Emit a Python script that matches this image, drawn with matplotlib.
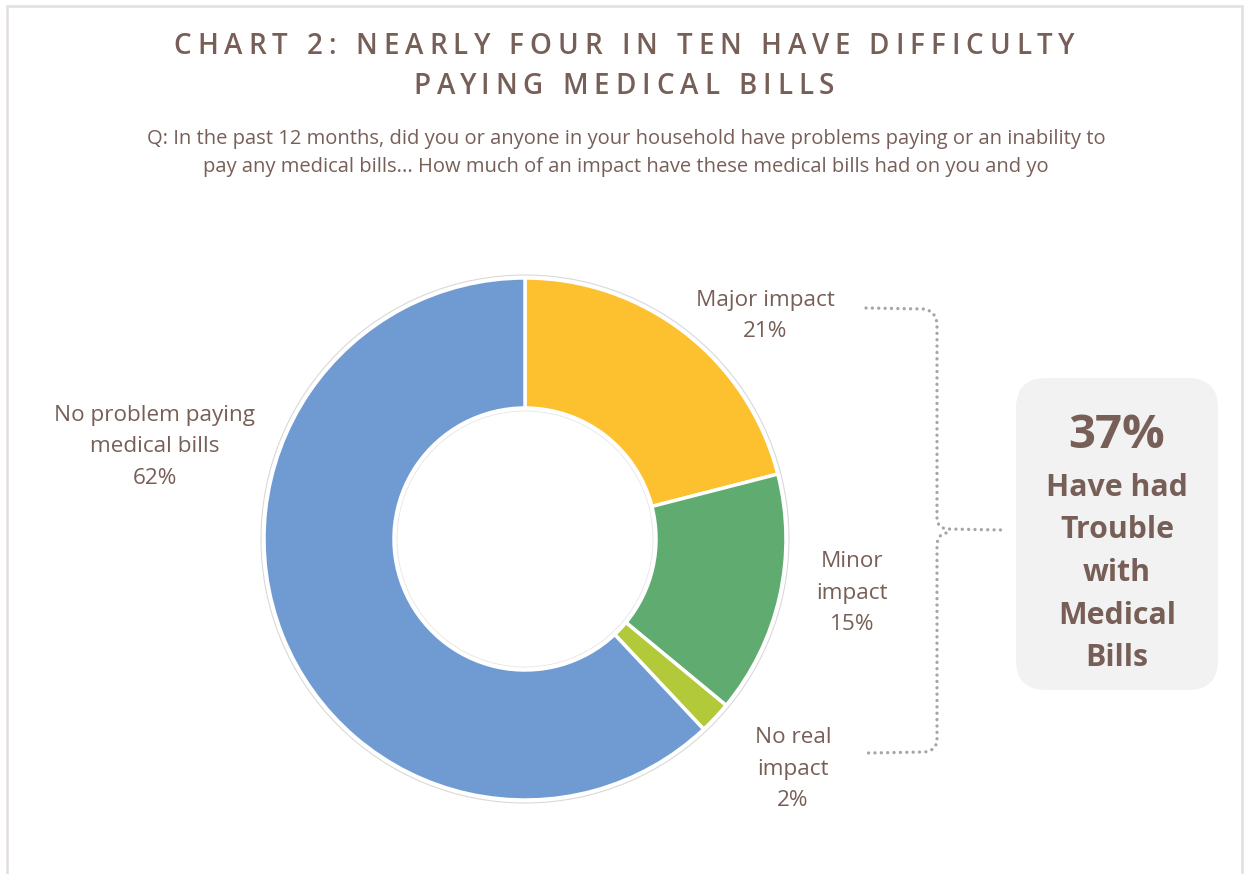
import matplotlib
matplotlib.use('Agg')
import matplotlib.pyplot as plt
from matplotlib.patches import FancyBboxPatch, Circle, PathPatch
from matplotlib.path import Path

W, H = 1244, 874

title_lines = ['CHART 2: NEARLY FOUR IN TEN HAVE DIFFICULTY', 'PAYING MEDICAL BILLS']
subtitle_lines = ['Q: In the past 12 months, did you or anyone in your household have problems paying or an inability to',
                  'pay any medical bills... How much of an impact have these medical bills had on you and yo']

categories = ['Major impact', 'Minor\nimpact', 'No real\nimpact', 'No problem paying\nmedical bills']
values = [21, 15, 2, 62]
colors = ['#FDC02F', '#60AC70', '#B2C93A', '#709BD2']

callout_pct = '37%'
callout_text = ['Have had', 'Trouble', 'with', 'Medical', 'Bills']

TEXT = '#775F58'
FONT = 'Open Sans'


def py(y):
    # screen-style y (top down) to data y
    return H - y


def spaced_text(ax, s, cx, y, spacing, **kw):
    '''
    Draws s centred on cx with extra tracking between letters
    '''
    fig = ax.figure
    r = fig.canvas.get_renderer()

    def width(t):
        tt = ax.text(0, 0, t, **kw)
        w = tt.get_window_extent(renderer=r).width
        tt.remove()
        return w

    wH = width('H')
    total = width(s) + spacing * (len(s) - 1)
    x0 = cx - total / 2
    for i, ch in enumerate(s):
        if ch == ' ':
            continue
        off = width(s[:i] + 'H') - wH if i > 0 else 0
        ax.text(x0 + off + i * spacing, y, ch, ha='left', va='center', **kw)


fig = plt.figure(figsize=(W / 100, H / 100), dpi=100)
ax = fig.add_axes([0, 0, 1, 1])
ax.set_xlim(0, W)
ax.set_ylim(0, H)
ax.axis('off')

# outer frame
ax.plot([7, 7, 1242, 1242], [py(880), py(6), py(6), py(880)], color='#E3DFDD', lw=1.8,
        solid_joinstyle='miter', clip_on=False)

# title and question
for line, y in zip(title_lines, [47, 86]):
    spaced_text(ax, line, 624, py(y), 6.0, fontsize=20, color=TEXT, family=FONT, fontweight='semibold')
for line, y in zip(subtitle_lines, [139, 167]):
    ax.text(626, py(y), line, ha='center', va='center', fontsize=14.5, color=TEXT, family=FONT)

# donut
cx, cy, R = 525, py(539), 261
ax.pie(values, colors=colors, startangle=90, counterclock=False, radius=R, center=(cx, cy),
       wedgeprops=dict(width=130, edgecolor='white', linewidth=2.5))
ax.set_xlim(0, W)
ax.set_ylim(0, H)
ax.set_aspect('auto')
ax.add_patch(Circle((cx, cy), R + 3, fill=False, ec='#D9D9D9', lw=0.8))
ax.add_patch(Circle((cx, cy), R - 133, fill=False, ec='#E6E6E6', lw=0.6))

# slice labels
label_pos = [(765, 316), (852, 593), (793, 769), (155, 447)]
for cat, v, (lx, ly) in zip(categories, values, label_pos):
    ax.text(lx, py(ly), f'{cat}\n{v}%', ha='center', va='center', fontsize=16.2,
            color=TEXT, family=FONT, linespacing=1.65)

# dotted bracket
dot = dict(fill=False, ec='#A6A6A6', lw=2.4, linestyle=(0, (0.01, 1.9)), capstyle='round')
upper = Path([(866, py(308)), (925, py(309)), (937, py(312)), (937, py(325)),
              (937, py(518)), (937, py(527)), (946, py(529)), (1003, py(530))],
             [Path.MOVETO, Path.LINETO, Path.CURVE3, Path.CURVE3,
              Path.LINETO, Path.CURVE3, Path.CURVE3, Path.LINETO])
lower = Path([(946, py(533)), (937, py(535)), (937, py(545)),
              (937, py(740)), (937, py(750)), (925, py(752)), (868, py(753))],
             [Path.MOVETO, Path.CURVE3, Path.CURVE3,
              Path.LINETO, Path.CURVE3, Path.CURVE3, Path.LINETO])
ax.add_patch(PathPatch(upper, **dot))
ax.add_patch(PathPatch(lower, **dot))

# callout box
ax.add_patch(FancyBboxPatch((1016, py(690)), 202, 312, boxstyle='round,pad=0,rounding_size=30',
                            fc='#F2F2F2', ec='none'))
ax.text(1117, py(435), callout_pct, ha='center', va='center', fontsize=34, fontweight='bold',
        color=TEXT, family=FONT)
for i, t in enumerate(callout_text):
    ax.text(1117, py(488 + 42.5 * i), t, ha='center', va='center', fontsize=21.8, fontweight='bold',
            color=TEXT, family=FONT)

fig.savefig('out.png', dpi=100)
